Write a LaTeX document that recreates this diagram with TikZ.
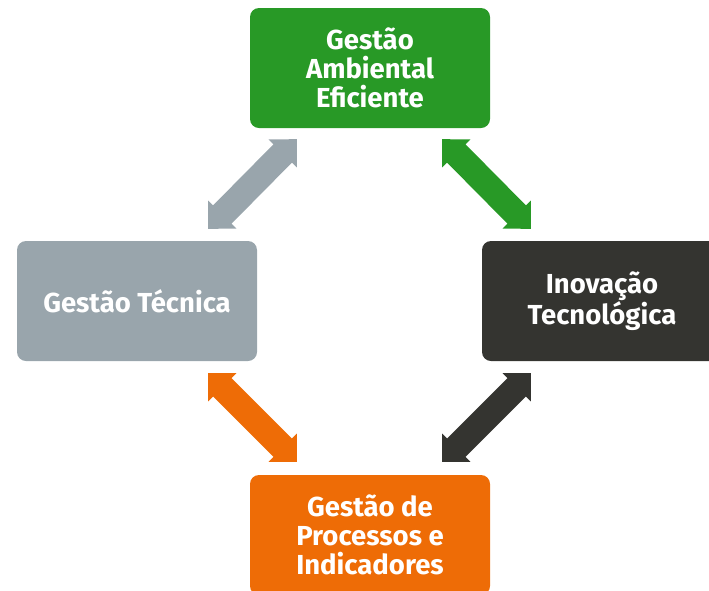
\documentclass[tikz,border=0pt]{standalone}
\usepackage{fontspec}
\setmainfont{Fira Sans}
\usetikzlibrary{calc}
\definecolor{cgreen}{RGB}{40,153,38}
\definecolor{cgray}{RGB}{153,165,172}
\definecolor{cdark}{RGB}{52,52,48}
\definecolor{corange}{RGB}{238,108,6}
% double block arrow: #1 colour, #2 and #3 named end points
\newcommand\blockarrow[3]{%
  \fill[#1] (#2)
    -- ($(#2)!20pt!(#3)!20pt!90:(#3)$)
    -- ($(#2)!20pt!(#3)!13pt!90:(#3)$)
    -- ($(#3)!20pt!(#2)!13pt!-90:(#2)$)
    -- ($(#3)!20pt!(#2)!20pt!-90:(#2)$)
    -- (#3)
    -- ($(#3)!20pt!(#2)!20pt!90:(#2)$)
    -- ($(#3)!20pt!(#2)!13pt!90:(#2)$)
    -- ($(#2)!20pt!(#3)!13pt!-90:(#3)$)
    -- ($(#2)!20pt!(#3)!20pt!-90:(#3)$)
    -- cycle;}
\begin{document}
\begin{tikzpicture}[x=1pt,y=-1pt,
  box/.style={rounded corners=9pt, minimum width=240pt, minimum height=120pt, inner sep=0pt,
    text=white, font=\bfseries\fontsize{27.5}{29}\selectfont, align=center}
]
\useasboundingbox (0,0) rectangle (709,590);
\clip (0,0) rectangle (709,590);
\node[box, fill=cgreen]  (top)    at (370,68)  {Gestão\\Ambiental\\Eficiente};
\node[box, fill=cgray]   (left)   at (137,301) {Gestão Técnica};
\node[box, fill=cdark]   (right)  at (602,301) {Inovação\\Tecnológica};
\node[box, fill=corange] (bottom) at (370,535) {Gestão de\\Processos e\\Indicadores};
\coordinate (g1) at ([shift={(47,11)}]top.south west);
\coordinate (g2) at ([shift={(-49,-12)}]left.north east);
\coordinate (v1) at ([shift={(-48,11)}]top.south east);
\coordinate (v2) at ([shift={(49,-12)}]right.north west);
\coordinate (o1) at ([shift={(-49,12)}]left.south east);
\coordinate (o2) at ([shift={(47,-13)}]bottom.north west);
\coordinate (d1) at ([shift={(49,12)}]right.south west);
\coordinate (d2) at ([shift={(-48,-13)}]bottom.north east);
\blockarrow{cgray}{g1}{g2}
\blockarrow{cgreen}{v1}{v2}
\blockarrow{corange}{o1}{o2}
\blockarrow{cdark}{d1}{d2}
\end{tikzpicture}
\end{document}
